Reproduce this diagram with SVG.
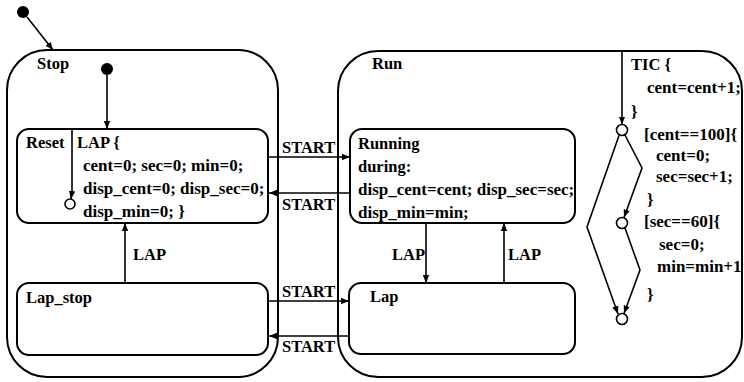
<svg xmlns="http://www.w3.org/2000/svg" width="744" height="382" viewBox="0 0 744 382">
<defs>
<marker id="ah" viewBox="0 0 10 10" refX="10" refY="5" markerWidth="8" markerHeight="8" markerUnits="userSpaceOnUse" orient="auto">
<path d="M0,1 L10,5 L0,9 Z" fill="#000"/>
</marker>
</defs>
<style>
text{font-weight:bold;font-size:16.5px;fill:#000}
text.k{font-size:17px}
.box{fill:#fff;stroke:#000;stroke-width:2}
.sup{fill:none;stroke:#000;stroke-width:2}
.c{fill:none;stroke:#000;stroke-width:1.6}
.a{marker-end:url(#ah)}
.j{fill:#fff;stroke:#000;stroke-width:1.6}
.dot{fill:#000}
</style>
<rect width="744" height="382" fill="#fff"/>
<g font-family="'Liberation Serif', 'Times New Roman', serif">
<g id="Stop">
<rect class="sup" x="7" y="50" width="271" height="327" rx="40"/>
<text x="37" y="69">Stop</text>
</g>
<g id="Run">
<rect class="sup" x="338" y="51" width="404" height="326" rx="40"/>
<text x="372" y="69">Run</text>
</g>
<g id="Reset">
<rect class="box" x="17" y="129" width="251" height="94" rx="12"/>
<text x="26" y="148">Reset</text>
<text x="77" y="148">LAP {</text>
<text class="k" x="83" y="171">cent=0; sec=0; min=0;</text>
<text class="k" x="83" y="194">disp_cent=0; disp_sec=0;</text>
<text class="k" x="83" y="217">disp_min=0; }</text>
</g>
<g id="Running">
<rect class="box" x="350" y="129" width="225" height="94" rx="12"/>
<text x="358" y="149">Running</text>
<text x="358" y="172">during:</text>
<text class="k" x="358" y="195">disp_cent=cent; disp_sec=sec;</text>
<text class="k" x="358" y="218">disp_min=min;</text>
</g>
<g id="Lap_stop">
<rect class="box" x="17" y="283" width="251" height="72" rx="12"/>
<text x="26" y="303">Lap_stop</text>
</g>
<g id="Lap">
<rect class="box" x="349" y="283" width="226" height="71" rx="12"/>
<text x="370" y="302">Lap</text>
</g>
<g id="init_top"><circle class="dot" cx="23" cy="12" r="6"/></g>
<g id="init_stop"><circle class="dot" cx="107" cy="69" r="6"/></g>
<g id="j_reset"><circle class="j" cx="70" cy="204" r="5"/></g>
<g id="j1"><circle class="j" cx="622" cy="130" r="5.5"/></g>
<g id="j2"><circle class="j" cx="622" cy="223" r="5.5"/></g>
<g id="j3"><circle class="j" cx="622" cy="319" r="5.5"/></g>
<g id="connectors">
<path class="c a" d="M27,17 L53,50"/>
<path class="c a" d="M107,75 V129"/>
<path class="c a" d="M72,129 V192 L71,199"/>
<path class="c a" d="M268,157 H350"/>
<path class="c a" d="M350,193 H269"/>
<path class="c a" d="M125,283 V223"/>
<path class="c a" d="M268,301 H349"/>
<path class="c a" d="M349,336 H269"/>
<path class="c a" d="M426,223 V283"/>
<path class="c a" d="M504,283 V223"/>
<path class="c a" d="M622,51 V124.5"/>
<path class="c a" d="M625,135 L642,168 L624,217.5"/>
<path class="c a" d="M619,135.5 L587,227 L618,314"/>
<path class="c a" d="M625,228 L640,270 L624,313.5"/>
</g>
<g id="labels">
<text x="282" y="153">START</text>
<text x="282" y="210">START</text>
<text x="133" y="260">LAP</text>
<text x="282" y="297">START</text>
<text x="282" y="352">START</text>
<text x="392" y="260">LAP</text>
<text x="508" y="260">LAP</text>
<text x="631" y="70">TIC {</text>
<text class="k" x="647" y="93">cent=cent+1;</text>
<text x="631" y="117">}</text>
<text class="k" x="644" y="140">[cent==100]{</text>
<text class="k" x="656" y="161">cent=0;</text>
<text class="k" x="656" y="182">sec=sec+1;</text>
<text x="647" y="205">}</text>
<text class="k" x="644" y="227">[sec==60]{</text>
<text class="k" x="659" y="250">sec=0;</text>
<text class="k" x="657" y="272">min=min+1</text>
<text x="647" y="300">}</text>
</g>
</g>
</svg>
